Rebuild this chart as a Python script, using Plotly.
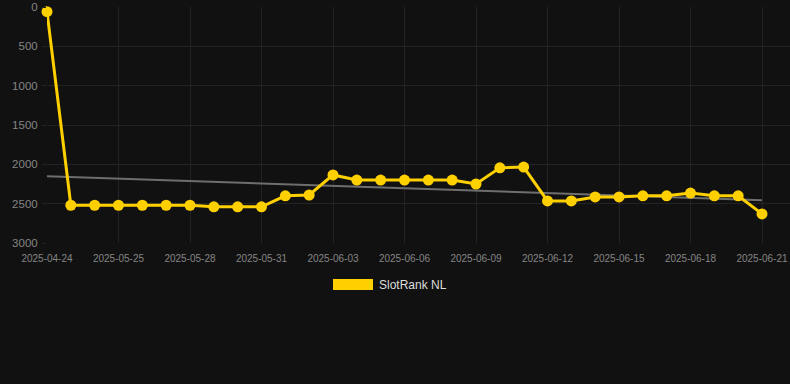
import numpy as np
import plotly.graph_objects as go

dates = ["2025-04-24"] + [f"2025-05-{d:02d}" for d in range(23, 32)] + [f"2025-06-{d:02d}" for d in range(1, 22)]
ranks = [60, 2520, 2520, 2520, 2520, 2520, 2520, 2540, 2540, 2540,
         2400, 2390, 2135, 2200, 2200, 2200, 2200, 2200, 2250, 2045,
         2035, 2465, 2465, 2415, 2415, 2400, 2400, 2365, 2400, 2400, 2630]
tick_labels = dates[::3]
y_ticks = [0, 500, 1000, 1500, 2000, 2500, 3000]
series_name = "SlotRank NL"

idx = np.arange(len(ranks))
slope, icpt = np.polyfit(idx, ranks, 1)
trend = slope * idx + icpt

W, H = 790, 384
L, R, T, B = 47, 0, 7, 141

fig = go.Figure()
fig.add_trace(go.Scatter(x=dates, y=trend, mode="lines",
                         line=dict(color="#6e6e6e", width=2), hoverinfo="skip", showlegend=False))
fig.add_trace(go.Scatter(x=dates, y=ranks, mode="lines+markers", name=series_name,
                         line=dict(color="#FFD000", width=3), cliponaxis=False,
                         marker=dict(color="#FFD000", size=11), showlegend=False))

pw = W - L - R
ph = H - T - B
def px(x):
    return (x - L) / pw
def py(y):
    return 1 - (y - T) / ph

fig.add_shape(type="rect", xref="paper", yref="paper",
              x0=px(333), x1=px(373), y0=py(290), y1=py(279),
              fillcolor="#FFD000", line=dict(width=0))
fig.add_annotation(xref="paper", yref="paper", x=px(377), y=py(285),
                   text=series_name, showarrow=False, xanchor="left", yanchor="middle",
                   font=dict(color="#dddddd", size=12, family="Liberation Sans, Arial, sans-serif"))

fig.update_layout(
    width=W, height=H,
    margin=dict(l=L, r=R, t=T, b=B, pad=0),
    paper_bgcolor="#111111", plot_bgcolor="#111111",
    font=dict(family="Liberation Sans, Arial, sans-serif", color="#858585"),
    xaxis=dict(type="category", categoryorder="array", categoryarray=dates,
               range=[0, len(dates) - 1 + (790 - 762) / 23.83],
               tickmode="array", tickvals=tick_labels, ticktext=tick_labels,
               tickfont=dict(size=10, color="#858585"),
               showgrid=True, gridcolor="#232323", gridwidth=1,
               zeroline=False, showline=False, ticks="", ticklabelstandoff=8),
    yaxis=dict(range=[3000, 0], tickvals=y_ticks,
               tickfont=dict(size=11.5, color="#858585"),
               showgrid=True, gridcolor="#232323", gridwidth=1,
               zeroline=False, showline=False, ticks="outside", ticklen=4,
               tickcolor="#232323", ticklabelstandoff=2),
    showlegend=False,
)

fig.write_html("out.html")
